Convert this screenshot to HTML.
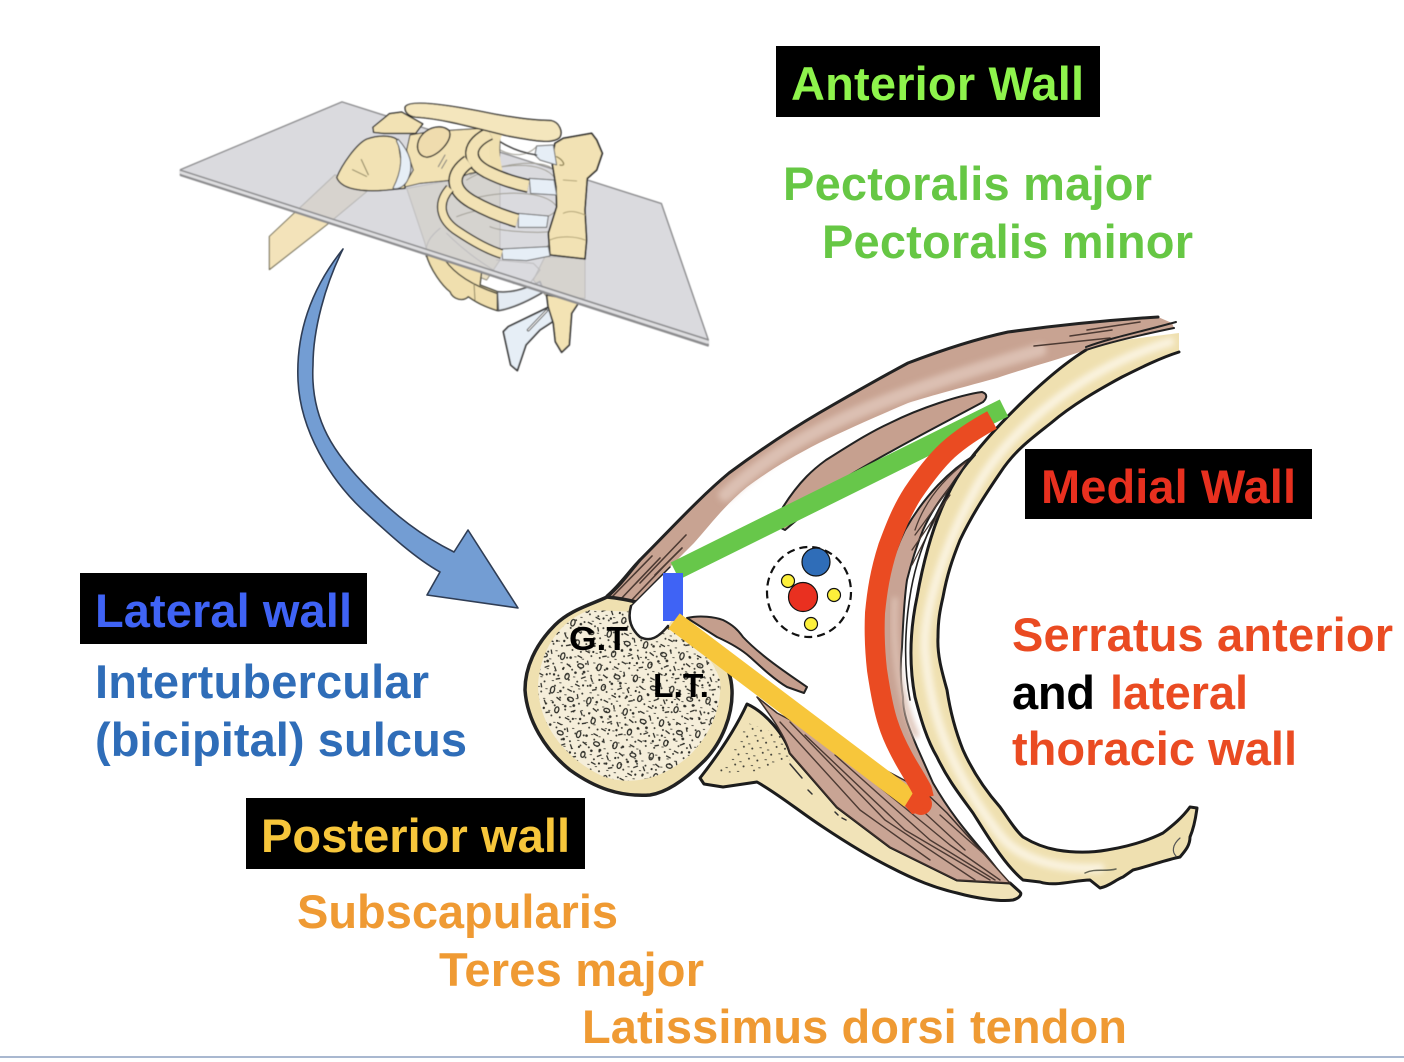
<!DOCTYPE html>
<html><head><meta charset="utf-8"><style>
html,body{margin:0;padding:0;background:#fff;width:1404px;height:1062px;overflow:hidden}
svg{display:block}
text{font-family:"Liberation Sans",Arial,sans-serif;font-weight:bold;font-size:47px}
</style></head><body>
<svg width="1404" height="1062" viewBox="0 0 1404 1062" xmlns="http://www.w3.org/2000/svg">
<defs>
<pattern id="sp" width="38" height="35" patternUnits="userSpaceOnUse" patternTransform="rotate(17)">
<g fill="none" stroke="#2e2e28" stroke-width="1.3">
<ellipse cx="8" cy="8" rx="2" ry="3.4"/><ellipse cx="28" cy="12" rx="3" ry="2"/><ellipse cx="18" cy="26" rx="2" ry="3"/>
<path d="M14 14l5 2M32 24l4-3M3 20l3 4M22 3l5 1M33 5l2 4M28 31l5 1M8 32l4-2"/>
</g>
<g fill="#2e2e28"><circle cx="16" cy="7" r="1.3"/><circle cx="33" cy="17" r="1.4"/><circle cx="5" cy="28" r="1.2"/><circle cx="25" cy="20" r="1.3"/><circle cx="36" cy="30" r="1.1"/><circle cx="12" cy="20" r="1.1"/></g>
</pattern>
<pattern id="sp2" width="15" height="13" patternUnits="userSpaceOnUse" patternTransform="rotate(-23)">
<g fill="#3a3a32"><circle cx="3" cy="3" r=".95"/><circle cx="10" cy="8" r="1"/><path d="M8 2l2 1M2 10l2 1" stroke="#3a3a32" stroke-width=".9"/></g>
</pattern>
<filter id="b" x="-20%" y="-20%" width="140%" height="140%"><feGaussianBlur stdDeviation="3"/></filter>
<filter id="s" x="-5%" y="-5%" width="110%" height="110%"><feGaussianBlur stdDeviation=".55"/></filter>
</defs>

<!-- thorax illustration -->
<g filter="url(#s)" stroke-linejoin="round" stroke-linecap="round">
 <!-- humerus shaft -->
 <g transform="translate(170,90) scale(.351,.339)">
  <path d="M470,250L283,432L283,530L450,395L560,300Z" fill="#f3e3ba" stroke="#6b6650" stroke-width="3"/>
 </g>
 <g transform="translate(400,100) scale(.3333)">
  <!-- through-plane tan -->
  <path d="M20,265L75,430L85,470L260,540L300,480L300,200L215,220L160,240Z" fill="#e9dfc2" stroke="#8d897a" stroke-width="3"/>
  <path d="M120,385C90,410 75,430 78,470M140,400C200,460 260,500 330,540" fill="none" stroke="#85827a" stroke-width="3"/>
  <path d="M435,470L555,475L555,595L440,590L400,540Z" fill="#ece0bd" stroke="#8d897a" stroke-width="3"/>
  <path d="M290,480L400,490L420,510L390,550L340,550" fill="none" stroke="#85827a" stroke-width="3"/>
  <!-- lower ribs, bright below plane -->
  <path d="M78,460C90,510 130,560 150,575C160,600 190,605 205,590C240,615 270,625 292,632L292,575L240,555L245,515L130,480Z" fill="#f0dfae" stroke="#3a3a30" stroke-width="4"/>
  <path d="M135,480C170,530 230,560 290,580" fill="none" stroke="#3a3a30" stroke-width="4"/>
  <path d="M222,550L225,600" fill="none" stroke="#8c8360" stroke-width="3"/>
  <path d="M292,575C330,580 370,570 420,545L432,575C390,600 340,625 295,632Z" fill="#e4ebf3" stroke="#555" stroke-width="5"/>
  <!-- lower sternum -->
  <path d="M440,585L470,590L535,610L515,640L508,735L485,757L466,725L460,670L445,625Z" fill="#f3e3b4" stroke="#333" stroke-width="5"/>
  <!-- xiphoid -->
  <path d="M310,695L325,680L445,622L458,665L420,690L378,735L352,812L332,795L322,750Z" fill="#e6eef6" stroke="#333" stroke-width="5"/>
  <path d="M385,690L440,632" fill="none" stroke="#444" stroke-width="9"/>
  <path d="M385,690L440,632" fill="none" stroke="#fff" stroke-width="3"/>
 </g>
 <!-- plane -->
 <g transform="translate(170,90) scale(.351,.339)">
  <path d="M30,235L490,35L1400,335L1533,735L1533,755L30,252Z" fill="#cfcfd3" fill-opacity=".76" stroke="#8b8b8d" stroke-width="4"/>
  <path d="M30,237L1533,737" stroke="#8d8d8f" stroke-width="5" fill="none"/>
  <path d="M30,250L1533,752" stroke="#8d8d8f" stroke-width="5" fill="none"/>
  <path d="M30,243L1533,744" stroke="#dedee0" stroke-width="8" fill="none"/>
 </g>
 <g transform="translate(400,100) scale(.3333)">
  <!-- arcs on plane -->
  <g fill="none" stroke="#a09e94" stroke-width="3">
   <path d="M300,150C340,170 380,170 410,140"/><path d="M200,240C280,190 440,170 465,215"/><path d="M210,225C300,190 430,180 465,235"/>
   <path d="M205,300C300,270 440,270 470,320C470,335 455,345 440,350"/><path d="M170,350C220,330 260,325 300,325"/><path d="M270,380C300,395 420,400 445,395C455,420 450,440 430,445"/>
  </g>
  <!-- sternum upper -->
  <path d="M490,115L575,100L590,120L607,160L590,210L562,235L555,330L560,420L555,477L450,465L445,400L470,320L468,260L455,180L465,130Z" fill="#f2e2b4" stroke="#222" stroke-width="5"/>
  <path d="M450,420C480,405 530,410 555,420M490,340C510,330 530,335 555,345M490,240l40,3" fill="none" stroke="#b0a274" stroke-width="3"/>
  <path d="M470,170C490,180 500,200 480,195" fill="none" stroke="#8d8050" stroke-width="4"/>
  <!-- cartilage -->
  <path d="M410,138L460,135L470,195L420,180L405,165Z" fill="#e6eef6" stroke="#666" stroke-width="3"/>
  <path d="M388,235L462,240L470,285L392,280Z" fill="#e6eef6" stroke="#666" stroke-width="3"/>
  <path d="M355,340L445,348L440,382L355,382Z" fill="#e6eef6" stroke="#666" stroke-width="3"/>
  <path d="M305,447L445,440L450,468L380,482L308,478Z" fill="#e6eef6" stroke="#666" stroke-width="3"/>
  <!-- scapula -->
  <path d="M30,105L90,95L245,85L300,105L298,205L210,220L160,240L60,250L10,262L40,210L20,150Z" fill="#f2e2b4" stroke="#333" stroke-width="3"/>
  <path d="M115,200L135,165M125,205L140,180" fill="none" stroke="#777" stroke-width="3"/>
  <path d="M300,125C340,150 375,160 410,165" fill="none" stroke="#333" stroke-width="4"/>
  <!-- ribs -->
  <g fill="none" stroke-linecap="butt">
   <path d="M295,95C270,130 290,200 298,240" stroke="#f0e0b0" stroke-width="30"/>
   <path d="M270,100C205,130 195,180 260,215C300,235 345,250 385,258" stroke="#222" stroke-width="42"/>
   <path d="M270,100C205,130 195,180 260,215C300,235 345,250 385,258" stroke="#f2e2b4" stroke-width="33"/>
   <path d="M205,185C150,225 155,270 215,305C260,330 310,350 352,362" stroke="#222" stroke-width="44"/>
   <path d="M205,185C150,225 155,270 215,305C260,330 310,350 352,362" stroke="#f2e2b4" stroke-width="35"/>
   <path d="M150,265C110,310 120,360 175,395C220,425 265,450 305,462" stroke="#222" stroke-width="30"/>
   <path d="M150,265C110,310 120,360 175,395C220,425 265,450 305,462" stroke="#f2e2b4" stroke-width="22"/>
  </g>
 </g>
 <g transform="translate(170,90) scale(.351,.339)">
  <!-- humeral head -->
  <path d="M475,258C490,220 530,160 560,145C600,130 640,135 650,150L670,290L620,295C570,300 490,300 475,258Z" fill="#f2e2b4" stroke="#333" stroke-width="4"/>
  <path d="M650,145C680,180 700,220 675,270C665,285 650,295 635,290C660,240 665,190 645,150Z" fill="#e6eef6" stroke="#555" stroke-width="3"/>
  <path d="M545,205l20,45M520,235l40,20" stroke="#8d8460" stroke-width="3" fill="none"/>
  <!-- acromion, coracoid -->
  <path d="M578,110L625,70L660,65L720,100L700,128L610,128L580,125Z" fill="#f2e2b4" stroke="#222" stroke-width="4"/>
  <path d="M708,150C720,115 770,95 795,120C810,145 760,200 730,198C710,195 700,175 708,150Z" fill="#efdcae" stroke="#222" stroke-width="4"/>
  <!-- clavicle -->
  <path d="M670,50C680,30 760,38 880,62C960,80 1040,90 1085,90C1110,95 1120,125 1110,140C1090,160 1040,150 960,135C860,110 780,85 700,80C680,78 668,65 670,50Z" fill="#f4e6bd" stroke="#222" stroke-width="4"/>
 </g>
</g>

<!-- big arrow -->
<path d="M343,249C310,290 296,335 298,380C300,430 330,480 365,512C390,535 415,558 440,572L427,595L518,608L468,530L454,552C420,535 395,515 370,490C335,455 310,420 313,365C313,330 325,285 343,249Z" fill="#739dd3" stroke="#2f3d55" stroke-width="1.6" stroke-linejoin="round"/>

<g stroke-linejoin="round" stroke-linecap="round">
<!-- pec major -->
<path d="M607,596C620,585 630,570 640,560C670,530 700,497 729,473C760,450 790,430 819,413C850,395 880,378 908,363C950,347 985,337 1008,332C1060,325 1110,320 1158,317L1172,323L1174,328C1140,335 1110,342 1086,350C1050,362 1020,370 997,378C960,388 930,396 908,403C880,415 850,428 819,443C790,458 770,470 747,487C725,505 710,525 694,543L670,567L630,608Z" fill="#c8a392"/>
<path d="M725,495C790,435 870,400 1040,350" stroke="#dcc0b2" stroke-width="13" fill="none" filter="url(#b)"/>
<path d="M607,596C620,585 630,570 640,560C670,530 700,497 729,473C760,450 790,430 819,413C850,395 880,378 908,363C950,347 985,337 1008,332C1060,325 1110,320 1158,317" fill="none" stroke="#222" stroke-width="3"/>
<path d="M1034,346L1110,338M1070,336L1112,330M1087,330L1140,322" fill="none" stroke="#4c3a33" stroke-width="1.6"/>
<path d="M618,602L660,558M628,604L668,562M612,597L652,556M640,583L686,535M655,575L682,548" fill="none" stroke="#4c3a33" stroke-width="1.6"/>

<!-- pec minor -->
<path d="M783,507C800,480 815,468 826,460C850,445 870,432 890,423C920,408 960,395 982,392C988,394 987,398 983,402C950,420 900,445 850,475L785,530L775,525Z" fill="#c6a08f" stroke="#222" stroke-width="2"/>

<!-- rib -->
<path d="M1086,350C1050,372 995,425 962,470C945,495 928,535 917,597C910,630 909,665 915,697C921,720 927,740 937,757C948,780 960,795 973,813C990,840 1005,865 1023,880L1040,882C1055,887 1075,880 1090,880L1100,888C1110,886 1115,880 1123,877L1133,870C1150,866 1165,860 1180,857C1186,850 1190,845 1190,837C1195,825 1196,815 1197,808L1190,807C1182,818 1172,826 1163,833C1145,842 1125,847 1107,850C1090,853 1075,853 1057,850C1045,848 1033,843 1023,837C1015,830 1008,818 1000,807C985,790 972,770 963,750C955,730 950,710 947,690C942,672 937,655 938,637C938,620 940,610 943,597C947,575 952,560 960,540C972,515 985,495 1000,473C1015,450 1032,438 1051,423C1072,405 1098,390 1122,377C1140,368 1160,358 1179,352L1179,333C1150,337 1110,340 1086,350Z" fill="#efe0b0"/>
<path d="M1170,342C1090,365 1010,425 975,490C945,545 923,610 925,650C930,715 950,770 1000,835C1020,860 1060,870 1100,868" fill="none" stroke="#faf3df" stroke-width="9" filter="url(#b)"/>
<path d="M1086,350C1050,372 995,425 962,470C945,495 928,535 917,597C910,630 909,665 915,697C921,720 927,740 937,757C948,780 960,795 973,813C990,840 1005,865 1023,880L1040,882C1055,887 1075,880 1090,880L1100,888C1110,886 1115,880 1123,877L1133,870C1150,866 1165,860 1180,857C1186,850 1190,845 1190,837C1195,825 1196,815 1197,808L1190,807C1182,818 1172,826 1163,833C1145,842 1125,847 1107,850C1090,853 1075,853 1057,850C1045,848 1033,843 1023,837C1015,830 1008,818 1000,807C985,790 972,770 963,750C955,730 950,710 947,690C942,672 937,655 938,637C938,620 940,610 943,597C947,575 952,560 960,540C972,515 985,495 1000,473C1015,450 1032,438 1051,423C1072,405 1098,390 1122,377C1140,368 1160,358 1179,352" fill="none" stroke="#1c1c1c" stroke-width="3"/>
<path d="M1174,328C1140,335 1110,342 1086,350" fill="none" stroke="#222" stroke-width="2"/>
<path d="M1176,322C1140,332 1110,338 1086,347" fill="none" stroke="#222" stroke-width="2"/>
<path d="M1180,838C1172,845 1172,852 1176,856" fill="none" stroke="#555" stroke-width="1.2"/>
<path d="M1085,873C1095,868 1105,872 1116,869" fill="none" stroke="#665" stroke-width="1.5"/>

<!-- serratus -->
<path d="M975,455C950,470 925,495 905,530C888,565 878,610 878,650C880,700 895,745 915,780L945,820L1005,880C985,850 960,830 933,783C925,765 917,747 917,747C910,730 903,715 903,697C900,680 900,665 902,647C903,625 904,600 907,580C912,560 917,545 923,530C932,510 940,500 950,487C958,475 966,465 975,455Z" fill="#c8a394" stroke="#222" stroke-width="2"/>
<path d="M895,600C892,650 900,700 916,735" fill="none" stroke="#dcc0b2" stroke-width="6" filter="url(#b)"/>
<path d="M966,462C945,478 925,500 915,530M955,480L915,535M950,495L912,550M940,510L912,565" fill="none" stroke="#4c3a33" stroke-width="1.3"/>
<path d="M975,452C945,490 920,540 911,590C904,630 904,670 910,700" fill="none" stroke="#222" stroke-width="1.6"/>

<!-- scapula + subscapularis -->
<path d="M747,704C735,730 718,755 700,778L704,784L723,787L757,782C780,795 800,812 823,827C850,845 870,857 890,867C915,880 935,888 957,893C975,898 1000,902 1013,900C1020,898 1022,894 1020,892L1010,883L957,880L890,847L837,807L790,753C785,735 765,712 747,704Z" fill="#f1e3b8" stroke="#1c1c1c" stroke-width="3"/>
<path d="M745,722C738,745 728,760 717,773L760,771L790,760L782,735Z" fill="url(#sp2)"/>
<path d="M790,764l12,14M808,790l4,4M835,812l3,3M842,818l4,2" fill="none" stroke="#333" stroke-width="1.5"/>
<path d="M757,697L777,713L923,790L947,813L1010,883L957,880L890,847L837,807L790,753C785,735 770,715 757,697Z" fill="#c9a494" stroke="#3b2f2a" stroke-width="1.5"/>
<path d="M780,722L860,810L930,860M790,722L885,820L975,880M805,735L905,830L990,880M835,755L930,840L995,880M865,775L950,845L1000,880M900,790L965,850M940,815L985,855" fill="none" stroke="#4c3a33" stroke-width="1.4"/>

<!-- subscap tendon -->
<path d="M687,618C700,615 715,617 723,620C733,625 738,630 743,637C760,655 785,672 807,687L804,693L787,687C775,680 762,668 750,657C740,648 728,642 717,637Z" fill="#c49e8d" stroke="#222" stroke-width="2"/>

<!-- humeral head -->
<path d="M607,597C590,605 570,610 555,625C535,645 525,668 525,690C527,720 545,750 570,770C595,788 620,797 650,795C670,792 690,775 705,760C722,742 733,715 732,690C731,665 715,640 690,625C665,608 635,600 607,597Z" fill="#efe0b0" stroke="#222" stroke-width="3.5"/>
<path d="M590,610C560,620 540,650 538,685C538,720 560,755 600,775C630,788 665,778 690,755C715,730 722,700 720,680C710,650 680,625 640,612Z" fill="#f5eeda"/>
<path d="M590,610C560,620 540,650 538,685C538,720 560,755 600,775C630,788 665,778 690,755C715,730 722,700 720,680C710,650 680,625 640,612Z" fill="url(#sp2)"/>
<path d="M590,610C560,620 540,650 538,685C538,720 560,755 600,775C630,788 665,778 690,755C715,730 722,700 720,680C710,650 680,625 640,612Z" fill="url(#sp)"/>
<path d="M631,606L670,567L684,600L668,626C658,638 650,642 640,637C632,630 627,620 631,606Z" fill="#fff"/>
<path d="M631,606C627,620 632,630 640,637C650,642 658,638 668,626" fill="none" stroke="#222" stroke-width="2.5"/>
<path d="M607,597C620,586 630,572 640,560" fill="none" stroke="#222" stroke-width="3"/>
<path d="M631,606L670,567" fill="none" stroke="#222" stroke-width="1.5"/>
</g>

<!-- walls -->
<line x1="675" y1="571" x2="1004" y2="408" stroke="#67c74a" stroke-width="19"/>
<rect x="663" y="573" width="20" height="48" fill="#3f63f5"/>
<line x1="674" y1="621" x2="910" y2="799" stroke="#f7c63b" stroke-width="19"/>
<path d="M992,420C970,432 958,441 948,450C935,462 924,477 913,493C902,510 895,528 888,547C880,572 877,592 875,613C874,635 875,652 877,670C880,690 883,708 888,723C892,736 897,746 903,757C910,770 917,780 922,790L924,798" fill="none" stroke="#ea4b22" stroke-width="20"/>
<circle cx="921" cy="804" r="11" fill="#ea4b22"/>
<polygon points="905,806 916,788 925,812 912,814" fill="#ea4b22"/>

<!-- vessel bundle -->
<ellipse cx="809" cy="592" rx="42" ry="45" fill="#fff" stroke="#111" stroke-width="2.2" stroke-dasharray="8 5"/>
<circle cx="816" cy="562" r="14" fill="#2f6db8" stroke="#111" stroke-width="1.2"/>
<circle cx="803" cy="597" r="14.5" fill="#e93020" stroke="#111" stroke-width="1.2"/>
<circle cx="788" cy="581" r="6.5" fill="#fdf03a" stroke="#111" stroke-width="1.2"/>
<circle cx="834" cy="595" r="6.5" fill="#fdf03a" stroke="#111" stroke-width="1.2"/>
<circle cx="811" cy="624" r="6.5" fill="#fdf03a" stroke="#111" stroke-width="1.2"/>

<!-- labels on bone -->
<text x="569" y="650" style="font-size:33px" fill="#000" textLength="59" lengthAdjust="spacingAndGlyphs">G.T</text>
<text x="653" y="697" style="font-size:33px" fill="#000" textLength="56" lengthAdjust="spacingAndGlyphs">L.T.</text>

<!-- boxes -->
<rect x="776" y="46" width="324" height="71" fill="#000"/>
<rect x="1025" y="449" width="287" height="70" fill="#000"/>
<rect x="80" y="573" width="287" height="71" fill="#000"/>
<rect x="246" y="798" width="339" height="71" fill="#000"/>

<text x="791" y="100" fill="#8ef44c" textLength="293">Anterior Wall</text>
<text x="783" y="200" fill="#66c744" textLength="369">Pectoralis major</text>
<text x="822" y="258" fill="#66c744" textLength="371">Pectoralis minor</text>
<text x="1041" y="503" fill="#e8301f" textLength="255">Medial Wall</text>
<text x="1012" y="651" fill="#ea4b22" textLength="381">Serratus anterior</text>
<text x="1012" y="709" fill="#000" textLength="83">and</text>
<text x="1110" y="709" fill="#ea4b22" textLength="138">lateral</text>
<text x="1012" y="765" fill="#ea4b22" textLength="285">thoracic wall</text>
<text x="95" y="627" fill="#3f63f5" textLength="257">Lateral wall</text>
<text x="95" y="698" fill="#2f6db8" textLength="334">Intertubercular</text>
<text x="95" y="756" fill="#2f6db8" textLength="372">(bicipital) sulcus</text>
<text x="261" y="852" fill="#f7c63b" textLength="309">Posterior wall</text>
<text x="297" y="928" fill="#ef9a33" textLength="321">Subscapularis</text>
<text x="439" y="986" fill="#ef9a33" textLength="265">Teres major</text>
<text x="582" y="1043" fill="#ef9a33" textLength="545">Latissimus dorsi tendon</text>

<rect x="0" y="1056" width="1404" height="2" fill="#a9b8d0"/>
</svg>
</body></html>
